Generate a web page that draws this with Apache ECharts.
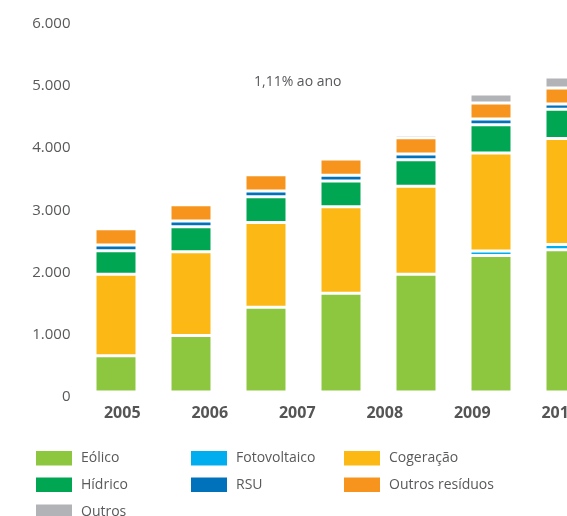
<!DOCTYPE html>
<html>
<head>
<meta charset="utf-8">
<script src="https://cdn.jsdelivr.net/npm/echarts@6/dist/echarts.min.js"></script>
<style>
html, body { margin: 0; padding: 0; background: #fff; overflow: hidden; }
/* the original is cut on the right, so the canvas is wider than the window */
#chart { width: 640px; height: 516px; }
</style>
</head>
<body>
<div id="chart"></div>
<script>
// barras (7 colunas) e rótulos do eixo x (6 anos, como no original)
const barYears = ['2005', '2006', '2007', '2008', '2009', '2010', '2011']
const axisYears = ['2005', '2006', '2007', '2008', '2009', '2010']

// valores
const eolico = [584, 908, 1362, 1587, 1892, 2193, 2286]
const fotovoltaico = [0, 0, 0, 0, 0, 74, 84]
const cogeracao = [1310, 1346, 1363, 1390, 1415, 1575, 1706]
const hidrico = [376, 402, 413, 415, 425, 452, 469]
const rsu = [93, 93, 94, 93, 94, 95, 85]
const outrosResiduos = [261, 261, 260, 258, 261, 257, 257]
const outros = [29, 29, 34, 32, 53, 145, 177]

// eixo y
const yMin = 0
const yMax = 6000
const yStep = 1000

const note = '1,11% ao ano'

const textColor = '#58595b'
const font = '"Open Sans", sans-serif'

const seriesDefs = [
  { name: 'Eólico', data: eolico, color: '#8dc63f' },
  { name: 'Fotovoltaico', data: fotovoltaico, color: '#00aeef' },
  { name: 'Cogeração', data: cogeracao, color: '#fcb814' },
  { name: 'Hídrico', data: hidrico, color: '#00a651' },
  { name: 'RSU', data: rsu, color: '#0072bc' },
  { name: 'Outros resíduos', data: outrosResiduos, color: '#f7941d' },
  { name: 'Outros', data: outros, color: '#b1b3b6' },
]

// posição de cada item da legenda (3 colunas)
const legendPos = {
  'Eólico': [34, 449],
  'Hídrico': [34, 475.5],
  'Outros': [34, 502.5],
  'Fotovoltaico': [189, 449],
  'RSU': [189, 475.5],
  'Cogeração': [342, 449],
  'Outros resíduos': [342, 475.5],
}

function fmtThousands(v) {
  return String(v).replace(/\B(?=(\d{3})+(?!\d))/g, '.')
}

const chart = echarts.init(document.getElementById('chart'))

const option = {
  animation: false,
  textStyle: { fontFamily: font },
  grid: {
    left: 78.5,
    top: 18.7,
    width: 525,
    height: 373.3,
    outerBoundsMode: 'none',
  },
  xAxis: [
    {
      type: 'category',
      data: barYears,
      axisLine: { show: false },
      axisTick: { show: false },
      axisLabel: { show: false },
    },
    {
      type: 'category',
      data: axisYears,
      position: 'bottom',
      offset: 0,
      axisLine: { show: false },
      axisTick: { show: false },
      axisLabel: {
        margin: 13,
        color: '#555',
        fontFamily: font,
        fontSize: 16,
        fontWeight: 'bold',
      },
    },
  ],
  yAxis: {
    type: 'value',
    min: yMin,
    max: yMax,
    interval: yStep,
    axisLine: { show: false },
    axisTick: { show: false },
    splitLine: { show: false },
    axisLabel: {
      margin: 8,
      color: textColor,
      fontFamily: font,
      fontSize: 15,
      // labels sit a few px below their value in the original
      verticalAlign: 'top',
      lineHeight: 10,
      formatter: fmtThousands,
    },
  },
  legend: seriesDefs.map(s => ({
    data: [s.name],
    left: legendPos[s.name][0],
    top: legendPos[s.name][1],
    padding: 0,
    icon: 'rect',
    itemWidth: 38,
    itemHeight: 16.5,
    selectedMode: false,
    textStyle: {
      color: textColor,
      fontFamily: font,
      fontSize: 14,
      padding: [0, 0, 0, 3],
    },
  })),
  graphic: [
    {
      type: 'text',
      left: 254,
      top: 75,
      style: {
        text: note,
        fill: textColor,
        font: '14px ' + font,
      },
    },
  ],
  series: seriesDefs.map(s => ({
    name: s.name,
    type: 'bar',
    stack: 'total',
    xAxisIndex: 0,
    barWidth: 42,
    data: s.data,
    itemStyle: {
      color: s.color,
      borderColor: '#fff',
      borderWidth: 1.5,
    },
  })),
}

chart.setOption(option)
</script>
</body>
</html>
